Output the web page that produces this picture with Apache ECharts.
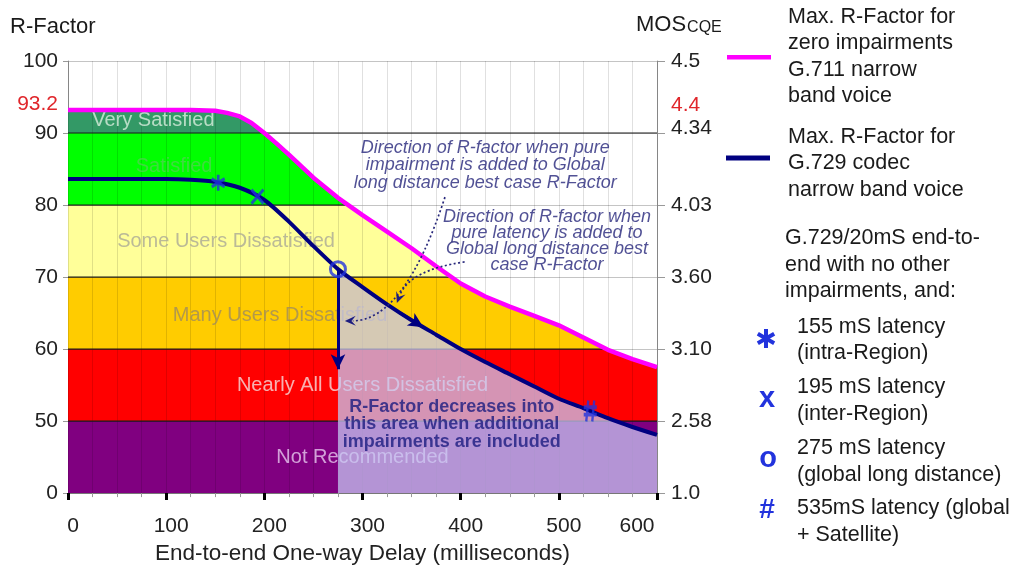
<!DOCTYPE html>
<html>
<head>
<meta charset="utf-8">
<script src="https://cdn.jsdelivr.net/npm/echarts@6/dist/echarts.min.js"></script>
<style>html,body{margin:0;padding:0;background:#fff}#c{width:1019px;height:570px}</style>
</head>
<body>
<div id="c"></div>
<script>
// ---------------- data ----------------
const delayTicks = [0, 100, 200, 300, 400, 500, 600];
const rTicks = [0, 50, 60, 70, 80, 90, 93.2, 100];
const rTickLabels = ['0', '50', '60', '70', '80', '90', '93.2', '100'];
const mosTickLabels = ['1.0', '2.58', '3.10', '3.60', '4.03', '4.34', '4.4', '4.5'];
const highlightR = 93.2;
const bandLimits = [50, 60, 70, 80, 90, 100];
const bandNames = ['Not Recommended', 'Nearly All Users Dissatisfied', 'Many Users Dissatisfied',
                   'Some Users Dissatisfied', 'Satisfied', 'Very Satisfied'];
// Max R-Factor, G.711, zero impairments
const g711Delay = [0, 50, 100, 125, 150, 162, 175, 187, 200, 212, 225, 250, 275, 300, 325, 350, 375, 400, 425, 450, 475, 500, 525, 550, 575, 600];
const g711R     = [93.2, 93.2, 93.2, 93.2, 93.1, 92.8, 92.3, 91.4, 90.0, 88.6, 87.0, 83.8, 81.0, 78.6, 76.3, 74.0, 71.5, 69.1, 67.3, 65.9, 64.6, 63.3, 61.6, 59.9, 58.6, 57.5];
// Max R-Factor, G.729 codec
const g729Delay = [0, 50, 100, 125, 150, 175, 200, 225, 250, 275, 300, 325, 350, 375, 400, 425, 450, 475, 500, 525, 550, 575, 600];
const g729R     = [83.6, 83.6, 83.6, 83.5, 83.2, 82.4, 80.7, 77.7, 74.3, 71.1, 68.6, 66.2, 64.0, 62.0, 60.0, 58.2, 56.5, 54.8, 53.1, 51.8, 50.4, 45.9, 40.4];
// latency markers on the G.729 curve
const markerDelay = [153, 193, 275, 532];
const markerLabels = ['155 mS latency\n(intra-Region)', '195 mS latency\n(inter-Region)',
                      '275 mS latency\n(global long distance)', '535mS latency (global\n+ Satellite)'];
const markerGlyphs = ['*', 'x', 'o', '#'];
const impairedFromDelay = 275;
const impairedArrowToR = 57.2;

// ---------------- helpers ----------------
const FONT = '"Liberation Sans", Arial, Helvetica, sans-serif';
// axis is piecewise: 0..50 compressed into one step, then 10 per step
function tv(r) { return r >= 50 ? r - 40 : r / 5; }
function interp(xs, ys, x) {
  for (let i = 0; i < xs.length - 1; i++) {
    if (x >= xs[i] && x <= xs[i + 1]) {
      const t = (x - xs[i]) / (xs[i + 1] - xs[i]);
      return ys[i] + t * (ys[i + 1] - ys[i]);
    }
  }
  return ys[ys.length - 1];
}

// band x positions: G.711 points plus crossings of each band limit
const xs = new Set(g711Delay);
const crossAt = {};
bandLimits.forEach(T => {
  for (let i = 0; i < g711R.length - 1; i++) {
    if ((g711R[i] - T) * (g711R[i + 1] - T) < 0) {
      const x = g711Delay[i] + (g711R[i] - T) / (g711R[i] - g711R[i + 1]) * (g711Delay[i + 1] - g711Delay[i]);
      xs.add(x);
      if (crossAt[T] === undefined) crossAt[T] = x;
    }
  }
});
const bx = [...xs].sort((a, b) => a - b);
const bm = bx.map(x => interp(g711Delay, g711R, x));

const bandColors = ['#800080', '#ff0000', '#ffcc00', '#ffff99', '#00ff00', '#339966'];
// each band fills from the axis up to min(upper limit, G.711 curve); upper bands drawn first
const bandSeries = bandColors.map((c, k) => ({
  type: 'line', name: bandNames[k], z: 2 + (5 - k) * 0.01, silent: true,
  symbol: 'none', lineStyle: { width: 0, opacity: 0 },
  areaStyle: { color: c, opacity: 1, origin: 'start' },
  data: bx.map((x, j) => [x, tv(Math.min(bandLimits[k], bm[j]))])
})).reverse();

const boundarySeries = bandLimits.slice(0, 5).map(T => ({
  type: 'line', z: 2.6, silent: true, symbol: 'none',
  lineStyle: { color: '#1a1a1a', width: 1.2 },
  data: [[0, tv(T)], [crossAt[T] !== undefined ? crossAt[T] : 600, tv(T)]]
}));

const bandLabelSeries = {
  type: 'scatter', z: 3, silent: true, symbolSize: 0,
  label: { show: true, position: 'inside', formatter: '{b}', fontSize: 20, fontFamily: FONT },
  data: [
    { name: bandNames[5], value: [87, tv(91.7)], label: { color: '#d9eedd' } },
    { name: bandNames[4], value: [108, tv(85.4)], label: { color: '#4fd24f' } },
    { name: bandNames[3], value: [161, tv(74.9)], label: { color: '#aaa996' } },
    { name: bandNames[2], value: [216, tv(64.6)], label: { color: '#a08c5c' } },
    { name: bandNames[1], value: [300, tv(55.0)], label: { color: '#f6dcdc' } },
    { name: bandNames[0], value: [300, tv(24.7)], label: { color: '#e6c8ee' } }
  ]
};

// upper layer (zlevel 1): impairment area, curves, markers, annotations
const overlaySeries = {
  type: 'line', zlevel: 1, z: 4, silent: true, symbol: 'none',
  lineStyle: { width: 0, opacity: 0 },
  areaStyle: { color: 'rgb(199,200,243)', opacity: 0.74, origin: 'start' },
  data: g729Delay.map((x, i) => [x, tv(g729R[i])]).filter(p => p[0] >= impairedFromDelay)
};

const navyAt = x => tv(interp(g729Delay, g729R, x));
const navySeries = {
  type: 'line', name: 'Max. R-Factor for G.729 codec narrow band voice', zlevel: 1, z: 5, silent: true,
  symbol: 'none', smooth: 0.25,
  lineStyle: { color: '#000080', width: 4 },
  data: g729Delay.map((x, i) => [x, tv(g729R[i])]),
  markLine: {
    zlevel: 1, z: 6,
    silent: true, animation: false, symbol: ['none', 'arrow'], symbolSize: [11, 15],
    label: { show: false },
    lineStyle: { color: '#000080', width: 3, type: 'solid' },
    emphasis: { disabled: true },
    data: [
      [{ coord: [impairedFromDelay, navyAt(impairedFromDelay)] }, { coord: [impairedFromDelay, tv(impairedArrowToR)] }],
      [{ coord: [338, navyAt(338)] }, { coord: [362, navyAt(362)] }]
    ]
  }
};

const magentaSeries = {
  type: 'line', name: 'Max. R-Factor for zero impairments G.711 narrow band voice', zlevel: 1, z: 6, silent: true,
  symbol: 'none',
  lineStyle: { color: '#ff00ff', width: 4.5 },
  data: g711Delay.map((x, i) => [x, tv(g711R[i])])
};

const annoColor = '#26267a';
const annotationSeries = {
  type: 'scatter', zlevel: 1, z: 6.5, silent: true, symbolSize: 0,
  label: { show: true, position: 'inside', formatter: '{b}', fontFamily: FONT },
  data: [
    { name: 'Direction of R-factor when pure\nimpairment is added to Global\nlong distance best case R-Factor',
      value: [425, tv(85.5)], label: { fontStyle: 'italic', fontSize: 18, lineHeight: 17.5, color: annoColor } },
    { name: 'Direction of R-factor when\npure latency is added to\nGlobal long distance best\ncase R-Factor',
      value: [488, tv(75.0)], label: { fontStyle: 'italic', fontSize: 18, lineHeight: 16.3, color: annoColor } },
    { name: 'R-Factor decreases into\nthis area when additional\nimpairments are included',
      value: [391, tv(47.9)], label: { fontWeight: 'bold', fontSize: 18, lineHeight: 17.5, color: '#1c1c80' } }
  ]
};

const MBLUE = '#2233dd';
const markerSymbols = [
  { symbol: 'path://M6,0L6,14M0,3.5L12,10.5M12,3.5L0,10.5', symbolSize: [13, 16] },
  { symbol: 'path://M0,0L12,14M12,0L0,14', symbolSize: [12, 14] },
  { symbol: 'circle', symbolSize: 15 },
  { symbol: 'path://M4.5,0L2.5,20M10.5,0L8.5,20M0,6.5L13,6.5M0,13.5L13,13.5', symbolSize: [13, 21] }
];
const markerSeries = {
  type: 'scatter', zlevel: 1, z: 7, silent: true,
  itemStyle: { color: 'rgba(0,0,0,0)', borderColor: MBLUE, borderWidth: 3 },
  data: markerDelay.map((x, i) => Object.assign({ value: [x, navyAt(x)], name: markerLabels[i] }, markerSymbols[i]))
};

function rLabel(v, labels, richKey) {
  const i = rTicks.findIndex(r => Math.abs(tv(r) - v) < 1e-6);
  if (i < 0) return '';
  return rTicks[i] === highlightR ? '{' + richKey + '|' + labels[i] + '}' : labels[i];
}

const option = {
  animation: false,
  backgroundColor: '#ffffff',
  textStyle: { fontFamily: FONT },
  grid: { left: 68, right: 362, top: 61, bottom: 76 },
  xAxis: {
    type: 'value', min: 0, max: 600, interval: 100, z: 2.5,
    axisLine: { show: true, lineStyle: { color: '#777', width: 1 } },
    axisTick: { show: true, length: 7, lineStyle: { color: '#000', width: 3 } },
    minorTick: { show: true, splitNumber: 4, length: 4, lineStyle: { color: '#999', width: 1 } },
    splitLine: { show: true, lineStyle: { color: 'rgba(0,0,0,0.12)', width: 1 } },
    minorSplitLine: { show: true, lineStyle: { color: 'rgba(0,0,0,0.12)', width: 1 } },
    axisLabel: {
      margin: 23, fontSize: 21, color: '#222', fontFamily: FONT,
      formatter: v => (v === delayTicks[delayTicks.length - 1] ? '{b|' + v + '}' : '{a|' + v + '}'),
      rich: {
        a: { fontSize: 21, color: '#222', fontFamily: FONT, padding: [0, 0, 0, 10] },
        b: { fontSize: 21, color: '#222', fontFamily: FONT, padding: [0, 40, 0, 0] }
      }
    },
    name: 'End-to-end One-way Delay (milliseconds)', nameLocation: 'middle', nameGap: 47,
    nameTextStyle: { fontSize: 22.5, color: '#222', fontFamily: FONT }
  },
  yAxis: [
    {
      type: 'value', min: 0, max: 60, interval: 10, position: 'left',
      axisLine: { show: true, lineStyle: { color: '#999' } },
      axisTick: { show: true, length: 5, lineStyle: { color: '#999' } },
      splitLine: { show: true, lineStyle: { color: '#c4c4c4' } },
      axisLabel: {
        customValues: rTicks.map(tv), margin: 10, fontSize: 21, color: '#222', fontFamily: FONT,
        formatter: v => rLabel(v, rTickLabels, 'r'),
        rich: { r: { fontSize: 21, color: '#e0262b', fontFamily: FONT, padding: [0, 0, 12, 0] } }
      }
    },
    {
      type: 'value', min: 0, max: 60, interval: 10, position: 'right',
      axisLine: { show: true, lineStyle: { color: '#999' } },
      axisTick: { show: true, length: 8, lineStyle: { color: '#999' } },
      splitLine: { show: false },
      axisLabel: {
        customValues: rTicks.map(tv), margin: 14, fontSize: 21, color: '#222', fontFamily: FONT,
        formatter: v => {
          const s = rLabel(v, mosTickLabels, 'r');
          return Math.abs(v - tv(90)) < 1e-6 ? '{s|' + s + '}' : s;
        },
        rich: {
          r: { fontSize: 21, color: '#e0262b', fontFamily: FONT, padding: [0, 0, 10, 0] },
          s: { fontSize: 21, color: '#222', fontFamily: FONT, padding: [0, 0, 10, 0] }
        }
      }
    }
  ],
  series: [].concat(bandSeries, boundarySeries, [bandLabelSeries, overlaySeries, navySeries, magentaSeries, annotationSeries, markerSeries])
};

const chart = echarts.init(document.getElementById('c'));
chart.setOption(option);

// ---------------- annotation arrows & right-hand key ----------------
const P = (x, r) => chart.convertToPixel({ xAxisIndex: 0, yAxisIndex: 0 }, [x, tv(r)]);
function dottedArrow(s, c, e) {
  const a = P(s[0], s[1]), b = P(c[0], c[1]), d = P(e[0], e[1]);
  let dx = d[0] - b[0], dy = d[1] - b[1];
  const len = Math.hypot(dx, dy); dx /= len; dy /= len;
  const L = 11, W = 5;
  const bxp = d[0] - dx * L, byp = d[1] - dy * L;
  return [
    { type: 'bezierCurve', silent: true, zlevel: 1, z: 100,
      shape: { x1: a[0], y1: a[1], cpx1: b[0], cpy1: b[1], x2: bxp + dx * 3, y2: byp + dy * 3 },
      style: { stroke: annoColor, lineWidth: 1.7, lineDash: [2, 2.5], fill: null } },
    { type: 'polygon', silent: true, zlevel: 1, z: 100,
      shape: { points: [[d[0], d[1]], [bxp - dy * W, byp + dx * W], [d[0] - dx * L * 0.6, d[1] - dy * L * 0.6], [bxp + dy * W, byp - dx * W]] },
      style: { fill: '#1c1c80' } }
  ];
}

const txt = (x, y, text, extra) => ({
  type: 'text', x: x, y: y, silent: true,
  style: Object.assign({ text: text, fontSize: 21.5, fontFamily: FONT, fill: '#1a1a1a',
                         lineHeight: 26.3, textVerticalAlign: 'top', verticalAlign: 'top' }, extra || {})
});

const graphics = [].concat(
  dottedArrow([384, 81.1], [343, 64.0], [282, 63.9]),
  dottedArrow([404, 72.1], [348, 71.0], [335, 66.4]),
  [
    txt(10, 27, 'R-Factor', { fontSize: 22, textVerticalAlign: 'middle', verticalAlign: 'middle' }),
    { type: 'text', x: 636, y: 36, silent: true,
      style: { text: '{a|MOS}{b|CQE}', textVerticalAlign: 'bottom', verticalAlign: 'bottom',
               rich: { a: { fontSize: 22, fontFamily: FONT, fill: '#1a1a1a', color: '#1a1a1a', verticalAlign: 'bottom', lineHeight: 22 },
                       b: { fontSize: 16, fontFamily: FONT, fill: '#1a1a1a', color: '#1a1a1a', verticalAlign: 'bottom', lineHeight: 22, padding: [0, 0, 0, 1] } } } },
    { type: 'rect', silent: true, shape: { x: 727, y: 55, width: 44, height: 4.5 }, style: { fill: '#ff00ff' } },
    txt(788, 4, 'Max. R-Factor for\nzero impairments\nG.711 narrow\nband voice'),
    { type: 'rect', silent: true, shape: { x: 726, y: 155.5, width: 44, height: 5 }, style: { fill: '#000080' } },
    txt(788, 124, 'Max. R-Factor for\nG.729 codec\nnarrow band voice'),
    txt(785, 225, 'G.729/20mS end-to-\nend with no other\nimpairments, and:', { lineHeight: 26.5 }),
    txt(797, 314, markerLabels[0], { lineHeight: 26 }),
    txt(797, 374, markerLabels[1], { lineHeight: 27 }),
    txt(797, 435, markerLabels[2], { lineHeight: 27 }),
    txt(797, 495, markerLabels[3], { lineHeight: 27 }),
    // legend glyphs
    { type: 'line', silent: true, shape: { x1: 766, y1: 329, x2: 766, y2: 348 }, style: { stroke: MBLUE, lineWidth: 4 } },
    { type: 'line', silent: true, shape: { x1: 757.8, y1: 333.8, x2: 774.2, y2: 343.2 }, style: { stroke: MBLUE, lineWidth: 4 } },
    { type: 'line', silent: true, shape: { x1: 757.8, y1: 343.2, x2: 774.2, y2: 333.8 }, style: { stroke: MBLUE, lineWidth: 4 } },
    txt(767, 399, markerGlyphs[1], { fontSize: 29, fontWeight: 'bold', fill: MBLUE, textAlign: 'center', align: 'center', textVerticalAlign: 'middle', verticalAlign: 'middle' }),
    txt(768, 459, markerGlyphs[2], { fontSize: 29, fontWeight: 'bold', fill: MBLUE, textAlign: 'center', align: 'center', textVerticalAlign: 'middle', verticalAlign: 'middle' }),
    txt(767, 510, markerGlyphs[3], { fontSize: 28, fontWeight: 'bold', fill: MBLUE, textAlign: 'center', align: 'center', textVerticalAlign: 'middle', verticalAlign: 'middle' })
  ]
);
chart.setOption({ graphic: graphics });
</script>
</body>
</html>
